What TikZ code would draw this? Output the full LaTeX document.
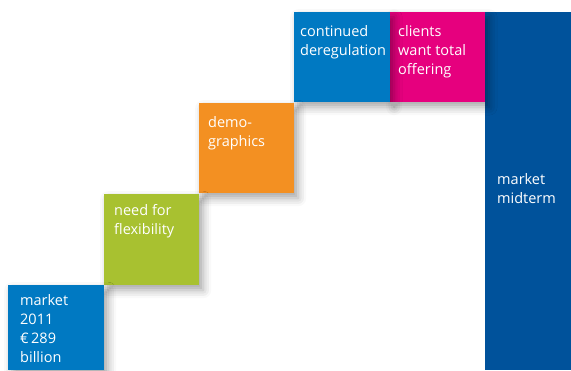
\documentclass[tikz,border=0pt]{standalone}
\usepackage{fontspec}
\setmainfont{Open Sans}
\usetikzlibrary{shadows.blur}
\definecolor{cblue}{HTML}{0079C2}
\definecolor{cgreen}{HTML}{A8C130}
\definecolor{corange}{HTML}{F39022}
\definecolor{cmagenta}{HTML}{E6007E}
\definecolor{cdark}{HTML}{00529B}
\tikzset{
  stepbox/.style={draw=none, inner sep=0pt, anchor=north west,
    blur shadow={shadow xshift=4pt, shadow yshift=-5pt, shadow blur radius=8pt, shadow opacity=35}},
  bigbox/.style={draw=none, inner sep=0pt, anchor=north west},
  lbl/.style={anchor=north west, inner sep=0pt, text=white, align=left,
    font=\fontsize{14.5pt}{19pt}\selectfont}
}
\begin{document}
\begin{tikzpicture}[x=1pt,y=-1pt]
\useasboundingbox (0,0) rectangle (571,370);
\node[bigbox, fill=cdark, minimum width=86pt, minimum height=358pt] (b6) at (485,12) {};
\node[stepbox, fill=cmagenta, minimum width=95pt, minimum height=90pt] (b5) at (390,12) {};
\node[stepbox, fill=cblue, minimum width=96pt, minimum height=90pt] (b4) at (294,12) {};
\node[stepbox, fill=corange, minimum width=95pt, minimum height=90pt] (b3) at (199,103) {};
\node[stepbox, fill=cgreen, minimum width=95pt, minimum height=91pt] (b2) at (104,194) {};
\node[stepbox, fill=cblue, minimum width=96pt, minimum height=85pt] (b1) at (8,285) {};
\node[lbl] (t1) at ([xshift=12pt,yshift=-9pt]b1.north west) {market\\2011\\€\,289\\billion};
\node[lbl] (t2) at ([xshift=10pt,yshift=-10pt]b2.north west) {need for\\flexibility};
\node[lbl] (t3) at ([xshift=9pt,yshift=-13pt]b3.north west) {demo-\\graphics};
\node[lbl] (t4) at ([xshift=6pt,yshift=-13pt]b4.north west) {continued\\deregulation};
\node[lbl] (t5) at ([xshift=8pt,yshift=-13pt]b5.north west) {clients\\want total\\offering};
\node[lbl] (t6) at ([xshift=12pt,yshift=-161pt]b6.north west) {market\\midterm};
\end{tikzpicture}
\end{document}
